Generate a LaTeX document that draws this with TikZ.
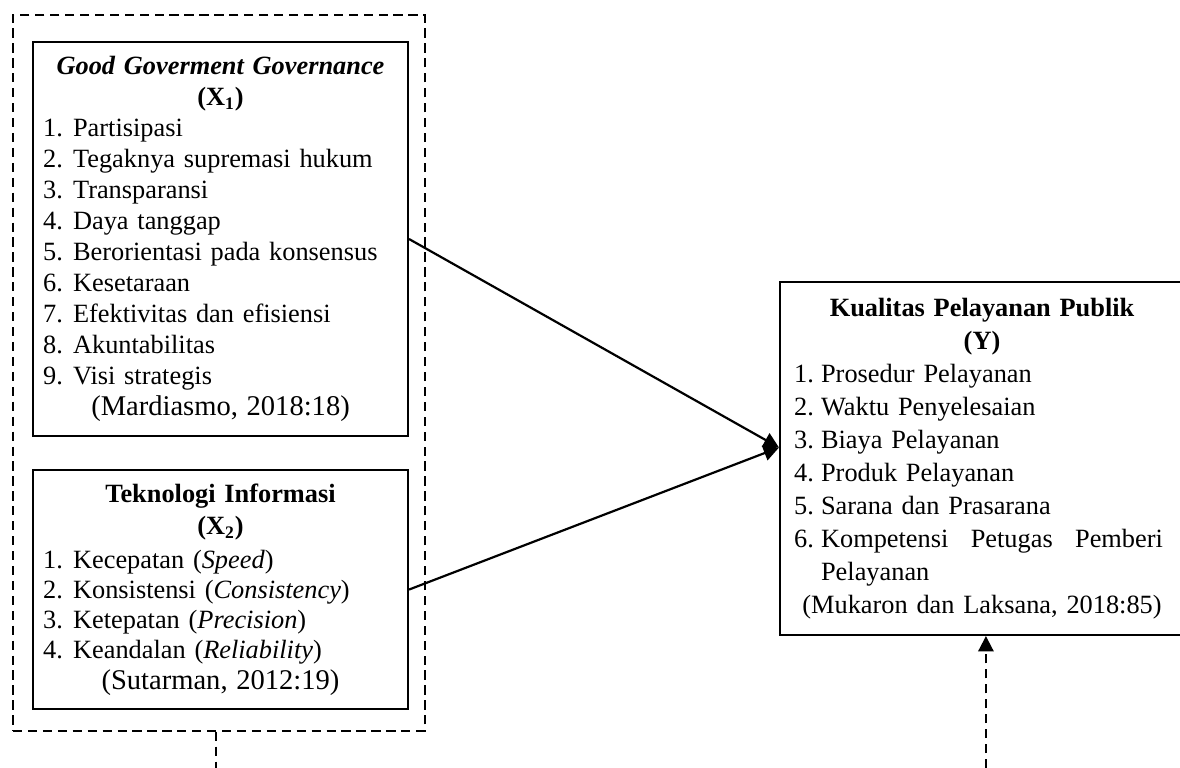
\documentclass[tikz,border=0pt]{standalone}
\usepackage{fontspec}
\setmainfont{Liberation Serif}
\usetikzlibrary{arrows.meta}
\newlength\lsind
\newcommand{\lsitem}[2]{\par\noindent\hangindent=\lsind\hangafter=1\makebox[\lsind][l]{#1.}#2}
\newcommand{\ctrY}{\leftskip=0pt plus 1fil\rightskip=0.736cm plus 1fil\parfillskip=0pt}
\tikzset{
  box/.style={draw, line width=1pt, anchor=north west, inner ysep=0pt},
  grp/.style={draw, line width=0.9pt, dash pattern=on 4.2pt off 2.6pt, anchor=north west, inner sep=0pt},
  link/.style={line width=1pt, -{Triangle[length=7pt, width=7pt]}},
  dline/.style={line width=0.9pt, dash pattern=on 4.2pt off 2.6pt},
  dlink/.style={dline, -{Triangle[length=7pt, width=7pt]}},
}
\begin{document}
\begin{tikzpicture}[x=0.016cm, y=-0.016cm]
  \useasboundingbox (0,0) rectangle (1180,768);
  \clip (0,0) rectangle (1180,768);
  \coordinate (edge) at (0,768);

  % independent variables
  \node[grp, minimum width=6.592cm, minimum height=11.456cm] (grp) at (12,14) {};
  \node[box, minimum width=6cm, minimum height=6.304cm, inner xsep=0.16cm, text width=5.68cm,
        font=\fontsize{12}{14.1}\selectfont] (x1) at (32,41) {%
    \setlength\lsind{0.48cm}%
    {\centering\textbf{\textit{Good Goverment Governance}}\\ \textbf{(X\textsubscript{1})}\par}
    \raggedright
    \lsitem{1}{Partisipasi}
    \lsitem{2}{Tegaknya supremasi hukum}
    \lsitem{3}{Transparansi}
    \lsitem{4}{Daya tanggap}
    \lsitem{5}{Berorientasi pada konsensus}
    \lsitem{6}{Kesetaraan}
    \lsitem{7}{Efektivitas dan efisiensi}
    \lsitem{8}{Akuntabilitas}
    \lsitem{9}{Visi strategis}
    \par{\centering\fontsize{13}{14.1}\selectfont (Mardiasmo, 2018:18)\par}
    \vspace*{-0.128cm}};
  \node[box, minimum width=6cm, minimum height=3.824cm, inner xsep=0.16cm, text width=5.68cm,
        font=\fontsize{12}{13.7}\selectfont] (x2) at (32,469) {%
    \setlength\lsind{0.48cm}%
    {\centering\fontsize{12}{14.6}\selectfont\textbf{Teknologi Informasi}\\ \textbf{(X\textsubscript{2})}\par}
    \vspace{1.8pt}\raggedright
    \lsitem{1}{Kecepatan (\textit{Speed})}
    \lsitem{2}{Konsistensi (\textit{Consistency})}
    \lsitem{3}{Ketepatan (\textit{Precision})}
    \lsitem{4}{Keandalan (\textit{Reliability})}
    \par{\centering\fontsize{13}{14.1}\selectfont (Sutarman, 2012:19)\par}
    \vspace*{-0.096cm}};

  % dependent variable
  \node[box, minimum height=5.648cm, inner xsep=0.224cm, text width=6.752cm,
        font=\fontsize{12}{15}\selectfont] (y) at (779,281) {%
    \setlength\lsind{0.432cm}%
    {\ctrY\textbf{Kualitas Pelayanan Publik}\\ \textbf{(Y)}\par}
    \raggedright
    \lsitem{1}{Prosedur Pelayanan}
    \lsitem{2}{Waktu Penyelesaian}
    \lsitem{3}{Biaya Pelayanan}
    \lsitem{4}{Produk Pelayanan}
    \lsitem{5}{Sarana dan Prasarana}
    \lsitem{6}{\makebox[5.472cm][l]{Kompetensi\hfill Petugas\hfill Pemberi}\newline Pelayanan}
    \par{\ctrY (Mukaron dan Laksana, 2018:85)\par}};
  \coordinate (ybot) at ([xshift=3.312cm]y.south west);
  \coordinate (gbot) at ([xshift=-0.048cm]grp.south);

  \draw[link] (x1.east) -- ([yshift=0.176cm]y.west);
  \draw[link] (x2.east) -- ([yshift=0.176cm]y.west);
  \draw[dline] (gbot) -- (gbot |- edge);
  \draw[dlink] (ybot |- edge) -- (ybot);
\end{tikzpicture}
\end{document}
